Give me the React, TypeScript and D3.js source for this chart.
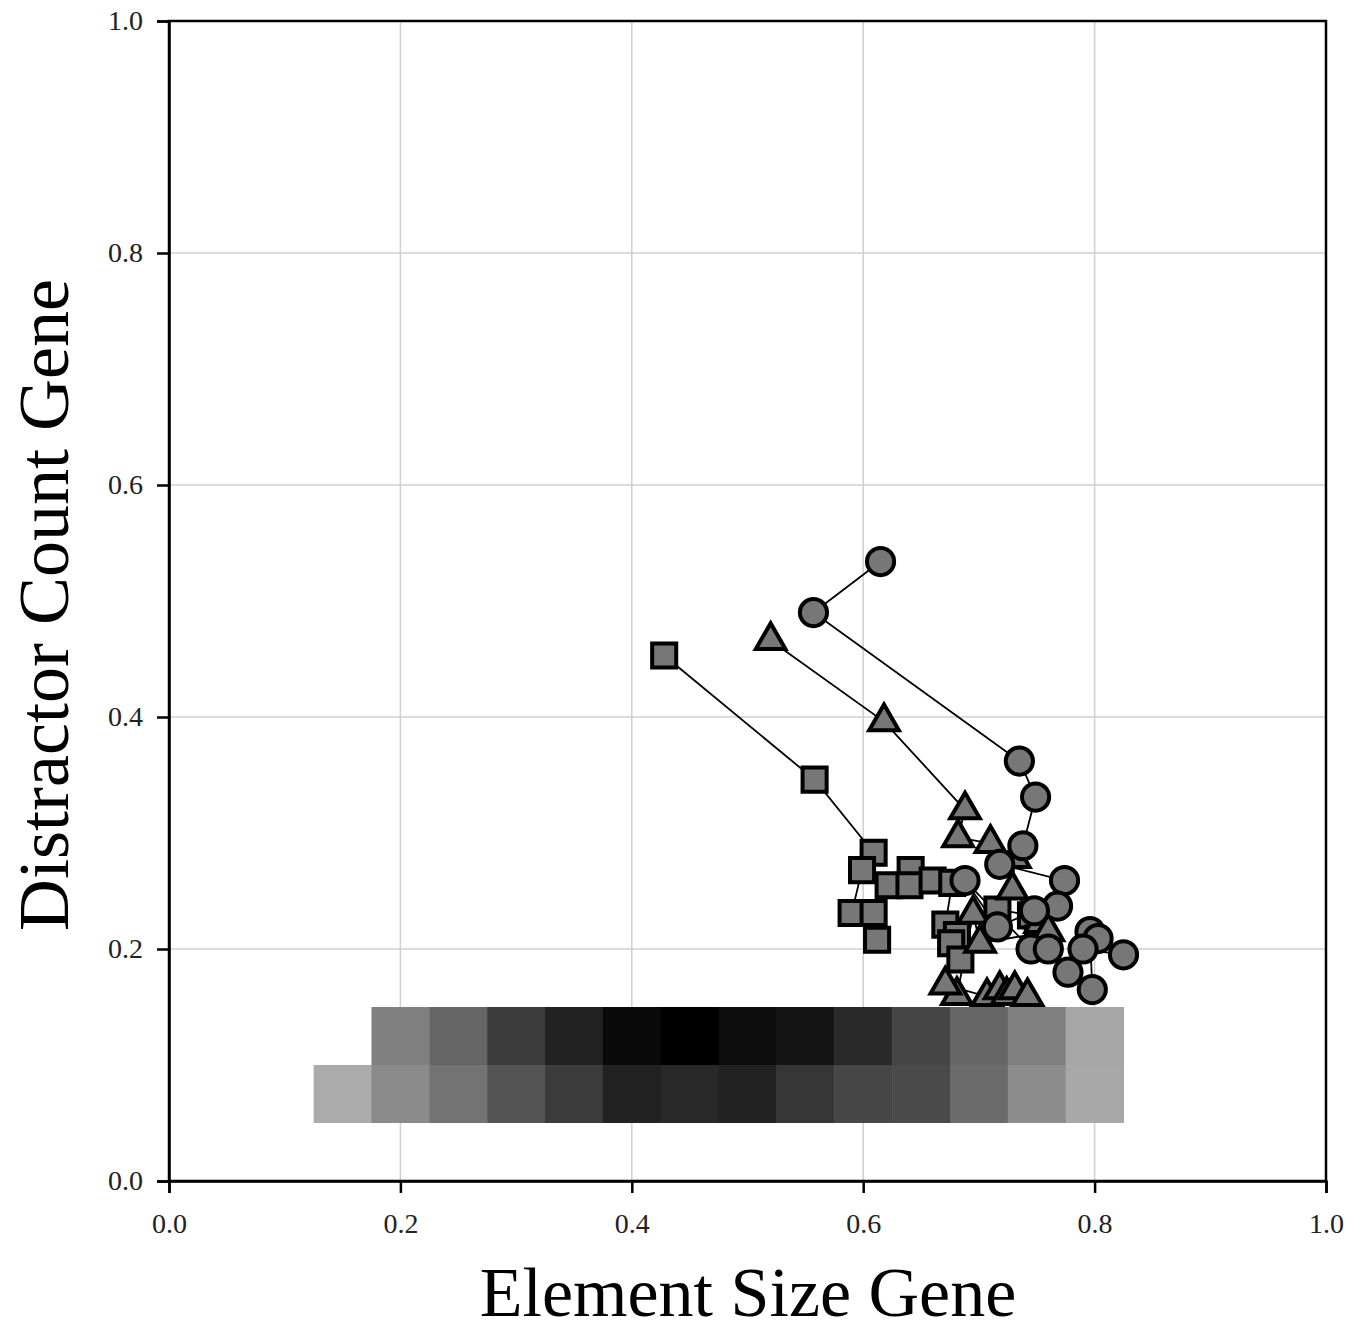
import React, { useEffect, useRef } from 'react';
import * as d3 from 'd3';

// heatmap rows: darkness 0 (white) .. 1 (black), cells 0.05 wide
const upperRowStart = 0.175;
const upperRow = [0.5, 0.6, 0.77, 0.87, 0.96, 1.0, 0.95, 0.92, 0.84, 0.73, 0.6, 0.5, 0.35];
const lowerRowStart = 0.125;
const lowerRow = [0.33, 0.46, 0.55, 0.67, 0.77, 0.87, 0.84, 0.87, 0.79, 0.72, 0.71, 0.58, 0.45, 0.34];

// trajectories [x, y]
const circleSeries: [number, number][] = [
  [0.615, 0.534], [0.557, 0.49], [0.735, 0.362], [0.749, 0.331], [0.738, 0.289],
  [0.718, 0.273], [0.774, 0.259], [0.768, 0.237], [0.748, 0.233], [0.716, 0.219],
  [0.688, 0.259], [0.745, 0.2], [0.76, 0.2], [0.777, 0.18], [0.798, 0.165],
  [0.796, 0.215], [0.803, 0.209], [0.825, 0.195], [0.79, 0.2]
];
const triangleSeries: [number, number][] = [
  [0.52, 0.466], [0.618, 0.396], [0.688, 0.32], [0.682, 0.296], [0.71, 0.291],
  [0.731, 0.278], [0.729, 0.251], [0.753, 0.222], [0.76, 0.215], [0.701, 0.205],
  [0.695, 0.23], [0.681, 0.16], [0.671, 0.169], [0.707, 0.159], [0.718, 0.165],
  [0.724, 0.16], [0.731, 0.165], [0.742, 0.159]
];
const squareSeries: [number, number][] = [
  [0.428, 0.453], [0.558, 0.346], [0.609, 0.283], [0.599, 0.268], [0.59, 0.231],
  [0.609, 0.231], [0.612, 0.208], [0.622, 0.255], [0.641, 0.268], [0.64, 0.255],
  [0.66, 0.259], [0.677, 0.257], [0.671, 0.221], [0.681, 0.212], [0.676, 0.205],
  [0.684, 0.191], [0.716, 0.234], [0.745, 0.229], [0.751, 0.209]
];

const ticks = [0, 0.2, 0.4, 0.6, 0.8, 1.0];

export default function App() {
  const svgRef = useRef<SVGSVGElement>(null);

  useEffect(() => {
    if (!svgRef.current) return;
    const W = 1363, H = 1336;
    const margin = { top: 21, right: 37, bottom: 155, left: 169 };
    const width = W - margin.left - margin.right;
    const height = H - margin.top - margin.bottom;

    d3.select(svgRef.current).selectAll('*').remove();
    const svg = d3.select(svgRef.current)
      .attr('width', W)
      .attr('height', H)
      .style('font-family', '"Liberation Serif", "DejaVu Serif", serif');

    const g = svg.append('g').attr('transform', `translate(${margin.left},${margin.top})`);

    const x = d3.scaleLinear().domain([0, 1]).range([0, width]);
    const y = d3.scaleLinear().domain([0, 1]).range([height, 0]);
    const grey = d3.scaleLinear<string>().domain([0, 1]).range(['#ffffff', '#000000']);

    // grid
    g.append('g')
      .selectAll('line.gx')
      .data(ticks.slice(1, -1))
      .enter().append('line')
      .attr('x1', d => x(d)).attr('x2', d => x(d))
      .attr('y1', 0).attr('y2', height)
      .attr('stroke', '#cfcfcf').attr('stroke-width', 1.5);
    g.append('g')
      .selectAll('line.gy')
      .data(ticks.slice(1, -1))
      .enter().append('line')
      .attr('y1', d => y(d)).attr('y2', d => y(d))
      .attr('x1', 0).attr('x2', width)
      .attr('stroke', '#cfcfcf').attr('stroke-width', 1.5);

    // heatmap
    const cellW = 0.05;
    g.selectAll('rect.up')
      .data(upperRow)
      .enter().append('rect')
      .attr('x', (_, i) => x(upperRowStart + i * cellW))
      .attr('width', x(cellW) - x(0) + 0.5)
      .attr('y', y(0.15))
      .attr('height', y(0.1) - y(0.15) + 0.5)
      .attr('fill', d => grey(d));
    g.selectAll('rect.low')
      .data(lowerRow)
      .enter().append('rect')
      .attr('x', (_, i) => x(lowerRowStart + i * cellW))
      .attr('width', x(cellW) - x(0) + 0.5)
      .attr('y', y(0.1))
      .attr('height', y(0.05) - y(0.1))
      .attr('fill', d => grey(d));

    // frame
    g.append('rect')
      .attr('width', width).attr('height', height)
      .attr('fill', 'none').attr('stroke', '#000').attr('stroke-width', 2.5);

    // axes
    const xAxis = g.append('g')
      .attr('transform', `translate(0,${height})`)
      .call(d3.axisBottom(x).tickValues(ticks).tickFormat(d3.format('.1f')).tickSize(12).tickPadding(20));
    const yAxis = g.append('g')
      .call(d3.axisLeft(y).tickValues(ticks).tickFormat(d3.format('.1f')).tickSize(12).tickPadding(14));
    [xAxis, yAxis].forEach(a => {
      a.select('.domain').attr('stroke', '#000').attr('stroke-width', 2.5);
      a.selectAll('line').attr('stroke', '#000').attr('stroke-width', 2.5);
      a.selectAll('text')
        .attr('fill', '#222')
        .style('font-size', '28px')
        .style('font-family', '"Liberation Serif", serif');
    });

    // trajectories
    const line = d3.line<[number, number]>().x(d => x(d[0])).y(d => y(d[1]));
    const series: { pts: [number, number][]; sym: d3.SymbolType; size: number }[] = [
      { pts: squareSeries, sym: d3.symbolSquare, size: 580 },
      { pts: triangleSeries, sym: d3.symbolTriangle, size: 380 },
      { pts: circleSeries, sym: d3.symbolCircle, size: 580 }
    ];
    series.forEach(s => {
      g.append('path')
        .attr('d', line(s.pts))
        .attr('fill', 'none')
        .attr('stroke', '#000')
        .attr('stroke-width', 1.8);
    });
    series.forEach(s => {
      const sym = d3.symbol().type(s.sym).size(s.size);
      g.append('g').selectAll('path')
        .data(s.pts)
        .enter().append('path')
        .attr('transform', d => `translate(${x(d[0])},${y(d[1])})`)
        .attr('d', sym()!)
        .attr('fill', '#777777')
        .attr('stroke', '#000')
        .attr('stroke-width', 4);
    });

    // axis titles
    svg.append('text')
      .attr('x', 748)
      .attr('y', 1316)
      .attr('text-anchor', 'middle')
      .style('font-size', '70px')
      .text('Element Size Gene');
    svg.append('text')
      .attr('transform', `translate(68,605) rotate(-90)`)
      .attr('text-anchor', 'middle')
      .style('font-size', '72px')
      .text('Distractor Count Gene');
  }, []);

  return <svg ref={svgRef} style={{ position: 'absolute', left: 0, top: 0 }}></svg>;
}
